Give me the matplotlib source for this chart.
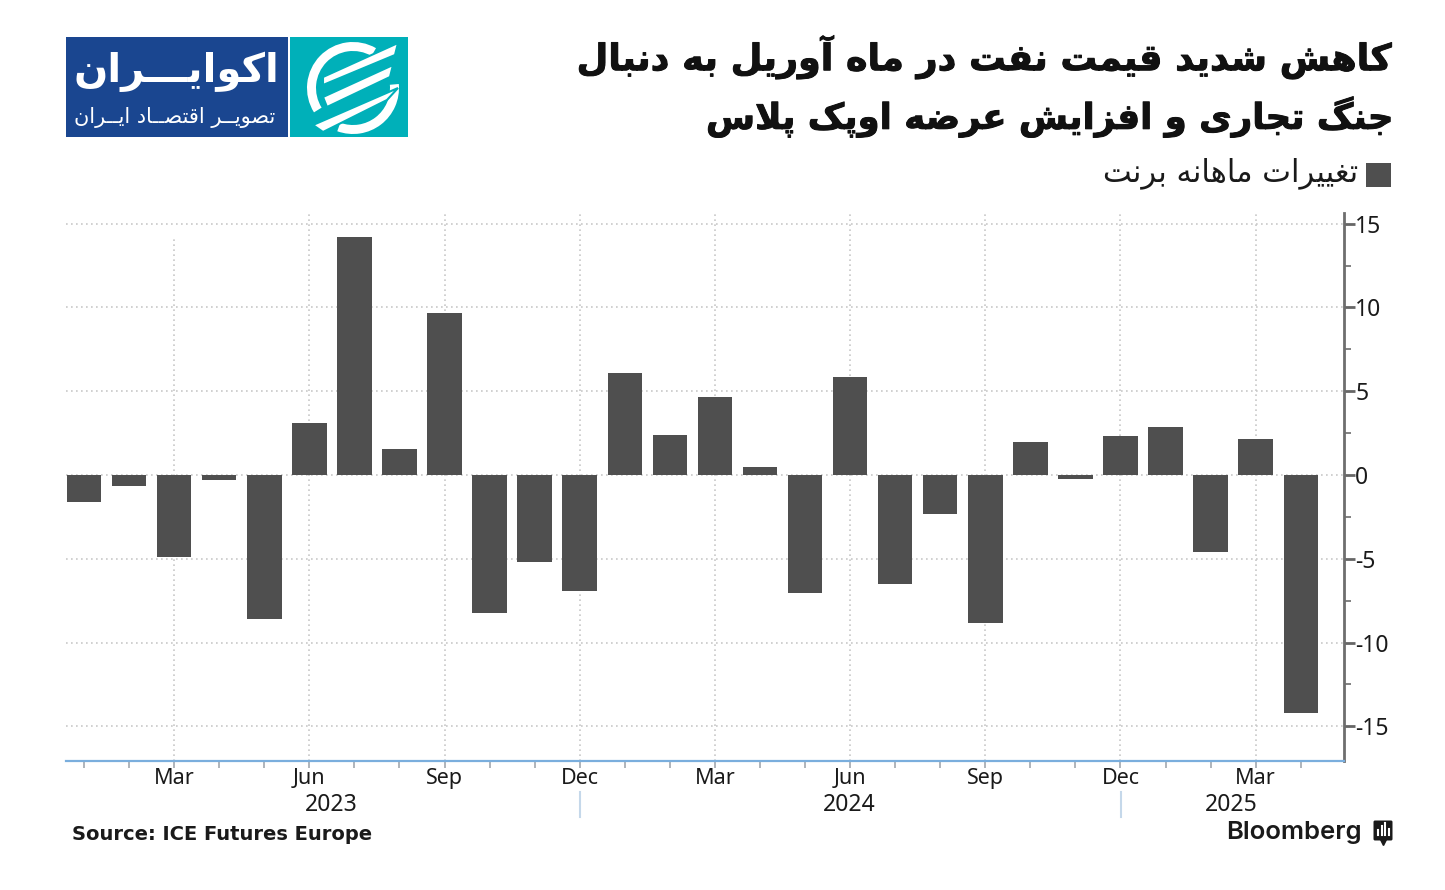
import matplotlib
matplotlib.use("Agg")
import matplotlib.pyplot as plt
import matplotlib.patheffects as pe
from matplotlib.patches import Rectangle, Polygon, Wedge, FancyBboxPatch

W, H = 1445, 890

values = [-1.6, -0.65, -4.9, -0.3, -8.6, 3.1, 14.2, 1.55, 9.7, -8.25, -5.2, -6.95,
          6.1, 2.4, 4.65, 0.5, -7.05, 5.85, -6.5, -2.35, -8.85, 2.0, -0.25, 2.35,
          2.85, -4.6, 2.15, -14.2]
quarter_idx = [2, 5, 8, 11, 14, 17, 20, 23, 26]
quarter_labels = ['Mar', 'Jun', 'Sep', 'Dec', 'Mar', 'Jun', 'Sep', 'Dec', 'Mar']
year_labels = ['2023', '2024', '2025']
year_pos = [5.47, 16.97, 25.44]
year_breaks = [11, 23]
y_ticks = [-15, -10, -5, 0, 5, 10, 15]
y_minor = [-12.5, -7.5, -2.5, 2.5, 7.5, 12.5]

title1 = 'کاهش شدید قیمت نفت در ماه آوریل به دنبال'
title2 = 'جنگ تجاری و افزایش عرضه اوپک پلاس'
legend_label = 'تغییرات ماهانه برنت'
logo_big = 'اکوایـــران'
logo_small = 'تصویــر اقتصــاد ایــران'
source = 'Source: ICE Futures Europe'

BAR = '#4f4f4f'
BLUE = '#7aaedd'
GRID = '#c8c8c8'

# matplotlib does no arabic shaping, so pick the presentation forms by hand
# (isolated, final, initial, medial)
forms = {
    'ا': (0xFE8D, 0xFE8E), 'آ': (0xFE81, 0xFE82), 'د': (0xFEA9, 0xFEAA), 'ر': (0xFEAD, 0xFEAE),
    'ز': (0xFEAF, 0xFEB0), 'و': (0xFEED, 0xFEEE),
    'ب': (0xFE8F, 0xFE90, 0xFE91, 0xFE92), 'پ': (0xFB56, 0xFB57, 0xFB58, 0xFB59),
    'ت': (0xFE95, 0xFE96, 0xFE97, 0xFE98), 'ج': (0xFE9D, 0xFE9E, 0xFE9F, 0xFEA0),
    'س': (0xFEB1, 0xFEB2, 0xFEB3, 0xFEB4), 'ش': (0xFEB5, 0xFEB6, 0xFEB7, 0xFEB8),
    'ص': (0xFEB9, 0xFEBA, 0xFEBB, 0xFEBC), 'ض': (0xFEBD, 0xFEBE, 0xFEBF, 0xFEC0),
    'ع': (0xFEC9, 0xFECA, 0xFECB, 0xFECC), 'غ': (0xFECD, 0xFECE, 0xFECF, 0xFED0),
    'ف': (0xFED1, 0xFED2, 0xFED3, 0xFED4), 'ق': (0xFED5, 0xFED6, 0xFED7, 0xFED8),
    'ل': (0xFEDD, 0xFEDE, 0xFEDF, 0xFEE0), 'م': (0xFEE1, 0xFEE2, 0xFEE3, 0xFEE4),
    'ن': (0xFEE5, 0xFEE6, 0xFEE7, 0xFEE8), 'ه': (0xFEE9, 0xFEEA, 0xFEEB, 0xFEEC),
    'ی': (0xFBFC, 0xFBFD, 0xFBFE, 0xFBFF), 'ک': (0xFB8E, 0xFB8F, 0xFB90, 0xFB91),
    'گ': (0xFB92, 0xFB93, 0xFB94, 0xFB95),
}
KASHIDA = 'ـ'


def joins_next(c):
    return c == KASHIDA or (c in forms and len(forms[c]) == 4)


def joins_prev(c):
    return c == KASHIDA or c in forms


def shape(text):
    out = []
    i = 0
    while i < len(text):
        c = text[i]
        prev = text[i - 1] if i > 0 else ' '
        nxt = text[i + 1] if i + 1 < len(text) else ' '
        after_join = joins_next(prev)
        if c == 'ل' and nxt == 'ا':
            out.append(chr(0xFEFC if after_join else 0xFEFB))
            i += 2
            continue
        if c not in forms:
            out.append(c)
        else:
            f = forms[c]
            if len(f) == 2:
                out.append(chr(f[1] if after_join else f[0]))
            else:
                before_join = joins_prev(nxt)
                if after_join and before_join:
                    out.append(chr(f[3]))
                elif after_join:
                    out.append(chr(f[1]))
                elif before_join:
                    out.append(chr(f[2]))
                else:
                    out.append(chr(f[0]))
        i += 1
    return ''.join(reversed(out))


fig = plt.figure(figsize=(W / 100, H / 100), dpi=100, facecolor='white')

# main chart, placed in pixels
left, right, top, bottom = 66, 1344, 213, 760.5
ax = fig.add_axes([left / W, 1 - bottom / H, (right - left) / W, (bottom - top) / H])
x = list(range(len(values)))
ax.bar(x, values, width=0.765, color=BAR, zorder=3)
ax.set_xlim(-0.40, 27.96)
ax.set_ylim(-17.04, 15.64)

ax.yaxis.tick_right()
ax.set_yticks(y_ticks)
ax.set_yticklabels([str(v) for v in y_ticks], fontsize=16.5, family='Noto Sans', color='#1a1a1a')
ax.set_yticks(y_minor, minor=True)
ax.tick_params(axis='y', which='major', length=8, width=2, color='#666666', pad=0)
ax.tick_params(axis='y', which='minor', length=5, width=1.3, color='#777777')

ax.set_xticks(quarter_idx)
ax.set_xticklabels(quarter_labels, fontsize=15.5, family='Noto Sans', color='#1a1a1a')
ax.set_xticks(x, minor=True)
ax.tick_params(axis='x', which='both', length=5, width=1.1, color='#9aa0a8', pad=0.5)

for v in y_ticks:
    ax.axhline(v, color=GRID, lw=1.2, ls=(0, (1, 2)), zorder=1)
for i in quarter_idx:
    ax.axvline(i, ymax=0.956 if i == 2 else 1, color=GRID, lw=1.2, ls=(0, (1, 2)), zorder=1)

for s in ['top', 'left']:
    ax.spines[s].set_visible(False)
ax.spines['right'].set_color('#6e6e6e')
ax.spines['right'].set_linewidth(2)
ax.spines['bottom'].set_color(BLUE)
ax.spines['bottom'].set_linewidth(1.6)

# overlay in pixel coordinates for the header, logo and footer
ov = fig.add_axes([0, 0, 1, 1], facecolor='none', zorder=5)
ov.set_xlim(0, W)
ov.set_ylim(H, 0)
ov.axis('off')

for lab, p in zip(year_labels, year_pos):
    ov.text(84.5 + p * 45.06, 805, lab, ha='center', va='center', fontsize=16.5,
            family='Noto Sans', color='#1a1a1a')
for i in year_breaks:
    xb = 84.5 + i * 45.06
    ov.plot([xb, xb], [792, 817], color='#c5d8ea', lw=1.5)

heavy = [pe.withStroke(linewidth=0.7, foreground='#111111')]
ov.text(1392, 57, shape(title1), ha='right', va='center', fontsize=26.3, fontweight='bold',
        family='DejaVu Sans', color='#111111', path_effects=heavy)
ov.text(1392, 117, shape(title2), ha='right', va='center', fontsize=25.6, fontweight='bold',
        family='DejaVu Sans', color='#111111', path_effects=heavy)

ov.add_patch(Rectangle((1366, 163), 25, 24, color=BAR, lw=0))
ov.text(1358, 173, shape(legend_label), ha='right', va='center', fontsize=22,
        family='DejaVu Sans', color='#1a1a1a')

# logo
ov.add_patch(Rectangle((66, 37), 222, 100, color='#1a4690', lw=0))
ov.add_patch(Rectangle((290, 37), 118, 100, color='#00b0b9', lw=0))
ov.text(176, 72, shape(logo_big), ha='center', va='center', fontsize=29, fontweight='bold',
        family='DejaVu Sans', color='white')
ov.text(175, 118, shape(logo_small), ha='center', va='center', fontsize=15,
        family='DejaVu Sans', color='white')
c = (353, 88)
ov.add_patch(Wedge(c, 46, 148, 300, width=9, color='white', lw=0))
ov.add_patch(Wedge(c, 46, -5, 110, width=9, color='white', lw=0))
for pts in [[(398, 43), (323, 77), (323, 85), (395, 55)],
            [(393, 65), (323, 97), (327, 107), (390, 77)],
            [(398, 88), (313, 125), (323, 132), (387, 100)]]:
    ov.add_patch(Polygon(pts, closed=True, facecolor='white', edgecolor='#00b0b9', lw=1.5))

# footer
ov.text(72, 834, source, ha='left', va='center', fontsize=14, fontweight='bold',
        family='DejaVu Sans', color='#1a1a1a')
ov.text(1362, 832, 'Bloomberg', ha='right', va='center', fontsize=18.5, fontweight='semibold',
        family='Inter', color='#1a1a1a')
ov.add_patch(FancyBboxPatch((1375, 822), 16, 17, boxstyle='round,pad=1.5', color='#1a1a1a', lw=0))
ov.plot([1383], [842], marker='v', ms=4, color='#1a1a1a')
for xb, h in zip([1378, 1381.5, 1385, 1388.5], [5, 9, 12, 6]):
    ov.plot([xb, xb], [835, 835 - h], color='white', lw=1.5)

fig.savefig('out.png', dpi=100)
